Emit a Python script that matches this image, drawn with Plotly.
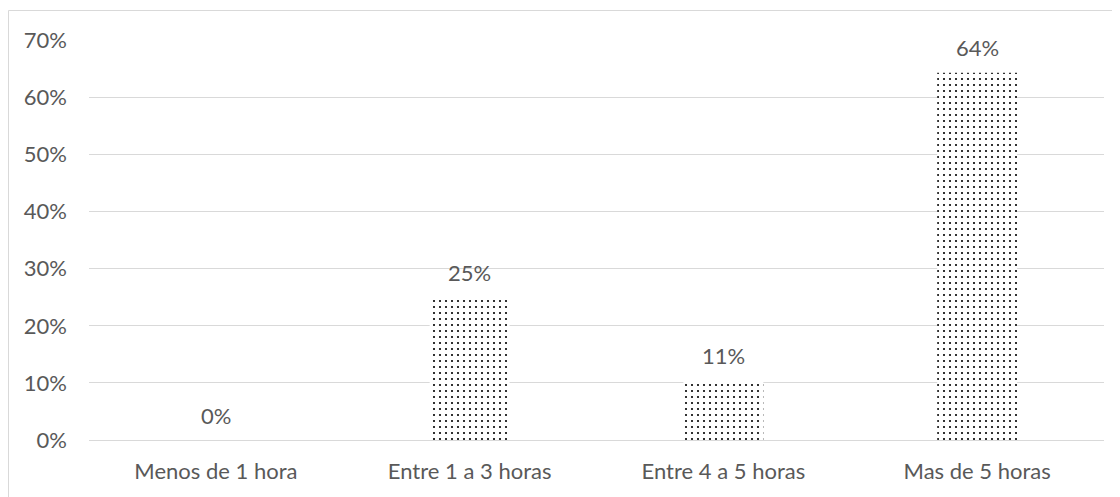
import plotly.graph_objects as go

categories = ["Menos de 1 hora", "Entre 1 a 3 horas", "Entre 4 a 5 horas", "Mas de 5 horas"]
values = [0.0, 0.25, 0.105, 0.643]
labels = ["0%", "25%", "11%", "64%"]
y_ticks = [0, 0.1, 0.2, 0.3, 0.4, 0.5, 0.6, 0.7]
y_tick_text = ["0%", "10%", "20%", "30%", "40%", "50%", "60%", "70%"]

FONT = "Lato"
GRAY = "#595959"
FS = 22

fig = go.Figure()
fig.add_trace(go.Bar(
    x=categories,
    y=values,
    marker=dict(
        color="white",
        line=dict(width=0),
        pattern=dict(shape=".", fgcolor="black", bgcolor="white", size=6, solidity=0.1, fillmode="replace"),
    ),
    width=0.315,
    hoverinfo="skip",
))

for c, v, t in zip(categories, values, labels):
    fig.add_annotation(x=c, y=v, text=t, showarrow=False, yanchor="middle", yshift=25,
                       font=dict(family=FONT, size=FS, color=GRAY))

# page body has an 8px margin, so everything is offset by 8px in the window
L, R, T, B = 81, 24, 32, 65
W, H = 1120, 497
pw, ph = W - L - R, H - T - B
fig.add_shape(type="rect", xref="paper", yref="paper",
              x0=(0.5 - L) / pw, x1=(1130 - L) / pw,
              y0=-(510 - (H - B)) / ph, y1=((H - B) - 2.5) / ph,
              line=dict(color="#d9d9d9", width=1), fillcolor="rgba(0,0,0,0)", layer="below")

fig.update_layout(
    width=W, height=H,
    margin=dict(l=L, r=R, t=T, b=B, pad=0),
    plot_bgcolor="white", paper_bgcolor="white",
    showlegend=False,
    font=dict(family=FONT, size=FS, color=GRAY),
    xaxis=dict(showgrid=False, showline=False, zeroline=False, ticks="", ticklabelstandoff=16,
               tickfont=dict(family=FONT, size=FS, color=GRAY)),
    yaxis=dict(range=[0, 0.7005], tickvals=y_ticks, ticktext=y_tick_text, showgrid=True,
               gridcolor="#d9d9d9", gridwidth=1, zeroline=True, zerolinecolor="#d9d9d9", zerolinewidth=1,
               showline=False, ticks="", ticklabelstandoff=21,
               tickfont=dict(family=FONT, size=FS, color=GRAY)),
)

fig.write_html("out.html")
